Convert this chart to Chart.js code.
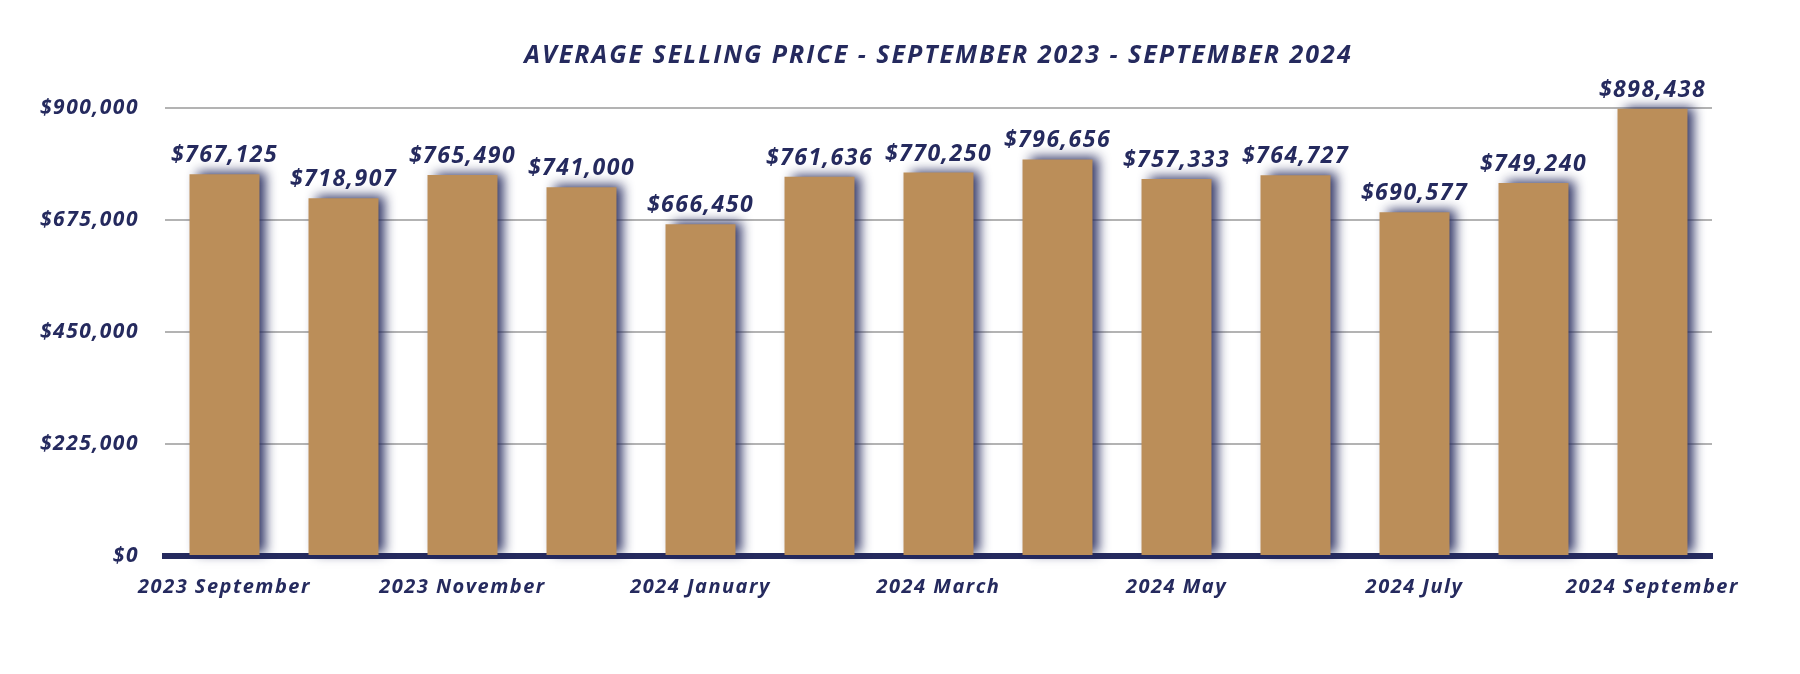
<!DOCTYPE html>
<html>
<head>
<meta charset="utf-8">
<script src="https://cdn.jsdelivr.net/npm/chart.js@4"></script>
<style>
  html, body { margin: 0; padding: 0; background: #fff; }
  #wrap { width: 1800px; height: 674px; }
</style>
</head>
<body>
<div id="wrap"><canvas id="price-bar"></canvas></div>
<script>
const months = [
    '2023 September', '2023 October', '2023 November', '2023 December',
    '2024 January', '2024 February', '2024 March', '2024 April',
    '2024 May', '2024 June', '2024 July', '2024 August', '2024 September'
]
const avgPrice = [767125, 718907, 765490, 741000, 666450, 761636, 770250, 796656, 757333, 764727, 690577, 749240, 898438]
const yTicks = [0, 225000, 450000, 675000, 900000]
const chartTitle = 'AVERAGE SELLING PRICE - SEPTEMBER 2023 - SEPTEMBER 2024'

const navy = '#252a5e'
const tan = '#bb8e59'
const fontFamily = '"Open Sans", Lato, sans-serif'

const money = v => '$' + v.toLocaleString('en-US')

// bar shadow + value labels + title
const decor = {
    id: 'decor',
    beforeDraw(chart) {
        // the original font is wider, so space the letters a little
        chart.ctx.letterSpacing = '1.5px'
    },
    beforeDatasetsDraw(chart) {
        const ctx = chart.ctx
        ctx.save()
        ctx.shadowColor = 'rgba(37, 42, 94, 0.95)'
        ctx.shadowBlur = 11
        ctx.shadowOffsetX = 7
        ctx.shadowOffsetY = -2
    },
    afterDatasetsDraw(chart) {
        const ctx = chart.ctx
        ctx.restore()
        ctx.save()
        ctx.fillStyle = navy
        ctx.letterSpacing = '1.5px'
        ctx.font = 'italic bold 23px ' + fontFamily
        ctx.textAlign = 'center'
        ctx.textBaseline = 'alphabetic'
        chart.getDatasetMeta(0).data.forEach((bar, i) => {
            ctx.fillText(money(avgPrice[i]), bar.x, bar.y - 12)
        })
        const area = chart.chartArea
        ctx.letterSpacing = '2px'
        ctx.font = 'italic bold 25px ' + fontFamily
        ctx.fillText(chartTitle, (area.left + area.right) / 2, 63)
        ctx.restore()
    }
}

new Chart(document.getElementById('price-bar'), {
    type: 'bar',
    data: {
        labels: months,
        datasets: [{
            label: 'Average Selling Price',
            data: avgPrice,
            backgroundColor: tan,
            borderWidth: 0,
            categoryPercentage: 1,
            barPercentage: 0.588,
            clip: false
        }]
    },
    options: {
        responsive: true,
        maintainAspectRatio: false,
        animation: false,
        layout: {
            padding: { top: 108, right: 88, left: 0, bottom: 0 }
        },
        plugins: {
            legend: { display: false },
            tooltip: { enabled: false },
            title: { display: false }
        },
        scales: {
            x: {
                grid: { display: false, drawTicks: false },
                border: { display: true, color: navy, width: 6 },
                ticks: {
                    autoSkip: false,
                    maxRotation: 0,
                    padding: 19,
                    color: navy,
                    font: { family: fontFamily, size: 20, style: 'italic', weight: 'bold' },
                    callback: function (value, index) {
                        return index % 2 === 0 ? months[index] : ''
                    }
                },
                afterFit(scale) { scale.height = 118 }
            },
            y: {
                min: 0,
                max: 900000,
                afterBuildTicks(scale) {
                    scale.ticks = yTicks.map(v => ({ value: v }))
                },
                grid: {
                    drawTicks: false,
                    lineWidth: 2,
                    color: ctx => ctx.tick && ctx.tick.value === 0 ? 'rgba(0,0,0,0)' : '#b3b3b3'
                },
                border: { display: false },
                ticks: {
                    padding: 26,
                    color: navy,
                    font: { family: fontFamily, size: 21, style: 'italic', weight: 'bold' },
                    callback: v => money(v)
                },
                afterFit(scale) { scale.width = 165 }
            }
        }
    },
    plugins: [decor]
})
</script>
</body>
</html>
